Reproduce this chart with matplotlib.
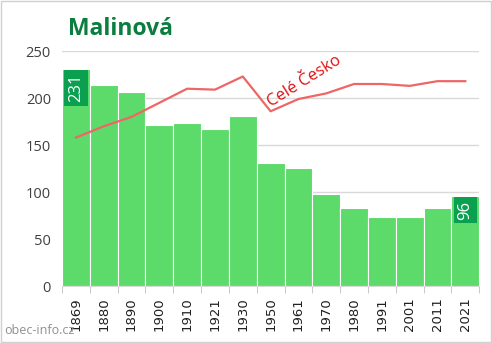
import matplotlib
matplotlib.use("Agg")
import matplotlib.pyplot as plt
import numpy as np

years = ["1869", "1880", "1890", "1900", "1910", "1921", "1930", "1950",
         "1961", "1970", "1980", "1991", "2001", "2011", "2021"]
population = [231, 214, 206, 171, 173, 167, 181, 131, 126, 98, 83, 74, 73, 83, 96]
czechia_scaled = [158, 170, 180, 195, 210, 209, 223, 186, 199, 205, 215, 215, 213, 218, 218]
title = "Malinová"
line_label = "Celé Česko"
watermark = "obec-info.cz"
yticks = [0, 50, 100, 150, 200, 250]

plt.rcParams['font.family'] = ['Open Sans', 'DejaVu Sans']

fig = plt.figure(figsize=(4.92, 3.43), dpi=100)
ax = fig.add_axes([0.126, 0.166, 0.848, 0.685])

x = np.arange(len(years))
ax.bar(x, population, width=1.0, color="#5ddb6a", edgecolor="white", linewidth=0.8, zorder=2)
ax.plot(x, czechia_scaled, color="#ee6666", linewidth=1.6, zorder=3)

ax.set_xlim(-0.5, len(years) - 0.5)
ax.set_ylim(0, 250)
ax.set_yticks(yticks)
ax.set_yticklabels([str(v) for v in yticks], color="#404040", fontsize=10.5)
ax.yaxis.grid(True, color="#d9d9d9", linewidth=1, zorder=0)
ax.set_axisbelow(True)
ax.tick_params(axis="y", length=0, pad=8)

ax.set_xticks(x)
ax.set_xticklabels(years, rotation=90, fontsize=9.5, color="#202020", family=['DejaVu Sans'])
ax.set_xticks(np.arange(-0.5, len(years)), minor=True)
ax.tick_params(axis="x", which="major", length=0, pad=8)
ax.tick_params(axis="x", which="minor", length=5, color="#bfbfbf")

for s in ["top", "right", "left"]:
    ax.spines[s].set_visible(False)
ax.spines["bottom"].set_color("#d9d9d9")

# value labels
for i in [0, len(years) - 1]:
    ax.text(x[i], population[i] - 5, str(population[i]), rotation=90, ha="center", va="top",
            color="white", fontsize=12,
            bbox=dict(boxstyle="square,pad=0.22", facecolor="#0aa050", edgecolor="none"), zorder=5)

ax.text(8.2, 218, line_label, rotation=32, color="#dd1111", fontsize=12,
        ha="center", va="center", zorder=4)

fig.text(0.138, 0.915, title, fontsize=16.5, fontweight="bold", color="#0b7d3e", ha="left", va="center")
fig.text(0.008, 0.035, watermark, fontsize=9, color="#909090", ha="left", va="center")

border = plt.Rectangle((0.002, 0.003), 0.995, 0.993, transform=fig.transFigure,
                       fill=False, edgecolor="#d0d0d0", linewidth=1)
fig.patches.append(border)

fig.savefig("out.png", dpi=100)
